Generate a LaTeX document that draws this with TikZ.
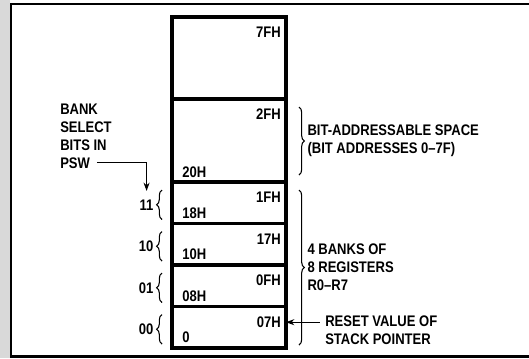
\documentclass[tikz,border=0pt]{standalone}
\usepackage{fontspec}
\setmainfont[FakeStretch=0.85]{Liberation Sans}
\usetikzlibrary{arrows.meta, positioning, calc, decorations.pathreplacing}

\begin{document}
\begin{tikzpicture}[
    x=0.75pt, y=-0.75pt,
    cell/.style={draw, line width=2.3pt, outer sep=0pt, inner sep=0pt,
                 minimum width=85.5pt},
    addr/.style={inner sep=0pt, font=\bfseries\fontsize{11.5}{13}\selectfont},
    note/.style={align=left, inner sep=0pt,
                 font=\bfseries\fontsize{11.5}{13.5}\selectfont},
    brace/.style={decorate, decoration={brace, amplitude=4pt}, line width=0.8pt},
    arrow/.style={-{Stealth[length=2.2mm, width=1.6mm]}, line width=0.8pt},
]
\useasboundingbox (0,0) rectangle (529,358);
\fill[gray!30] (0,0) rectangle (9.5,358);
\draw[line width=2.2pt] (529,4) -- (11,4) -- (11,356.6) -- (529,356.6);

% RAM column
\node[cell, minimum height=61.5pt, anchor=north] (upper) at (229,17) {};
\node[cell, minimum height=62.25pt, below=0pt of upper] (bitarea) {};
\node[cell, minimum height=31.125pt, below=0pt of bitarea] (bank3) {};
\node[cell, minimum height=31.125pt, below=0pt of bank3] (bank2) {};
\node[cell, minimum height=31.125pt, below=0pt of bank2] (bank1) {};
\node[cell, minimum height=31.125pt, below=0pt of bank1] (bank0) {};

% addresses
\node[addr, anchor=north east] (a7F) at ($(upper.north east)+(-5,10)$) {7FH};
\node[addr, anchor=north east] (a2F) at ($(bitarea.north east)+(-5,10)$) {2FH};
\node[addr, anchor=south west] (a20) at ($(bitarea.south west)+(10,-4)$) {20H};
\node[addr, anchor=north east] (a1F) at ($(bank3.north east)+(-5,10)$) {1FH};
\node[addr, anchor=south west] (a18) at ($(bank3.south west)+(10,-5)$) {18H};
\node[addr, anchor=north east] (a17) at ($(bank2.north east)+(-5,10)$) {17H};
\node[addr, anchor=south west] (a10) at ($(bank2.south west)+(10,-5)$) {10H};
\node[addr, anchor=north east] (a0F) at ($(bank1.north east)+(-5,10)$) {0FH};
\node[addr, anchor=south west] (a08) at ($(bank1.south west)+(10,-5)$) {08H};
\node[addr, anchor=north east] (a07) at ($(bank0.north east)+(-5,10)$) {07H};
\node[addr, anchor=south west] (a00) at ($(bank0.south west)+(10,-5)$) {0};

% bank select braces
\draw[brace] ($(bank3.south west)+(-10,-4)$) -- ($(bank3.north west)+(-10,8)$)
    node[midway, left=6pt, addr] (sel3) {11};
\draw[brace] ($(bank2.south west)+(-10,-4)$) -- ($(bank2.north west)+(-10,8)$)
    node[midway, left=6pt, addr] (sel2) {10};
\draw[brace] ($(bank1.south west)+(-10,-4)$) -- ($(bank1.north west)+(-10,8)$)
    node[midway, left=6pt, addr] (sel1) {01};
\draw[brace] ($(bank0.south west)+(-10,-4)$) -- ($(bank0.north west)+(-10,8)$)
    node[midway, left=6pt, addr] (sel0) {00};

% right side notes
\draw[brace] ($(bitarea.north east)+(13,8)$) -- ($(bitarea.south east)+(13,-7)$)
    node[midway, right=6pt, note] (bitnote)
    {BIT-ADDRESSABLE SPACE\\(BIT ADDRESSES 0--7F)};
\draw[brace] ($(bank3.north east)+(13,8)$) -- ($(bank0.south east)+(13,-3)$)
    node[midway, right=6pt, note] (banknote)
    {4 BANKS OF\\8 REGISTERS\\R0--R7};
\node[note, anchor=west] (reset) at ($(bank0.east)+(39,3)$)
    {RESET VALUE OF\\STACK POINTER};
\draw[arrow, shorten <=4pt] (reset.west |- a07.center) -- (bank0.east |- a07.center);

% PSW pointer
\node[note, anchor=north west] (bank) at (60,104) {BANK\\SELECT\\BITS IN};
\node[note, below=4.5pt of bank.south west, anchor=north west] (psw) {PSW};
\draw[arrow, shorten <=5pt, shorten >=6pt] (psw.east) -| (sel3.north);
\end{tikzpicture}
\end{document}
